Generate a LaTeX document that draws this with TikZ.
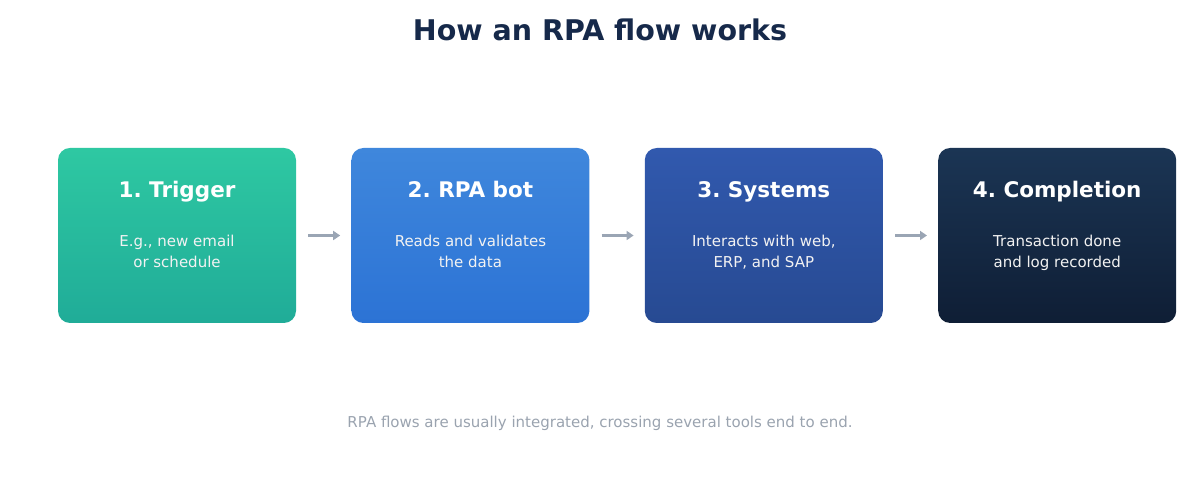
\documentclass[tikz,border=0pt]{standalone}
\usepackage{fontspec}
\setmainfont{DejaVu Sans}
\frenchspacing
\usetikzlibrary{arrows.meta,positioning,calc}
\definecolor{rpaTitle}{HTML}{16294A}
\definecolor{rpaGray}{HTML}{9AA3AF}
\definecolor{rpaArrow}{HTML}{9AA5B4}
\definecolor{rpaOneTop}{HTML}{2EC8A2}
\definecolor{rpaOneBot}{HTML}{20AC98}
\definecolor{rpaTwoTop}{HTML}{3F87DC}
\definecolor{rpaTwoBot}{HTML}{2C73D5}
\definecolor{rpaThreeTop}{HTML}{3159AE}
\definecolor{rpaThreeBot}{HTML}{274A92}
\definecolor{rpaFourTop}{HTML}{1B3554}
\definecolor{rpaFourBot}{HTML}{0F1E35}

\begin{document}
\begin{tikzpicture}[x=1pt,y=1pt,
    rpabox/.style={rounded corners=12pt,minimum width=238pt,minimum height=175pt,
        inner sep=0pt},
    rpahead/.style={font=\fontsize{21.5}{25}\selectfont\bfseries,text=white,anchor=base},
    rpabody/.style={font=\fontsize{15}{21}\selectfont,text=white!90!gray,align=center,
        text depth=0pt},
    rpaarrow/.style={-{Triangle[length=7pt,width=9pt]},draw=rpaArrow,line width=2.2pt,
        shorten <=12pt,shorten >=11pt}
]
\useasboundingbox (0,0) rectangle (1200,481);
\node[font=\fontsize{28.5}{32}\selectfont\bfseries,text=rpaTitle] (title) at (600,451)
    {How an RPA flow works};
\node[rpabox,top color=rpaOneTop,bottom color=rpaOneBot] (trigger) at (177,245.5) {};
\node[rpabox,top color=rpaTwoTop,bottom color=rpaTwoBot,right=55pt of trigger] (bot) {};
\node[rpabox,top color=rpaThreeTop,bottom color=rpaThreeBot,right=55pt of bot] (systems) {};
\node[rpabox,top color=rpaFourTop,bottom color=rpaFourBot,right=55pt of systems] (done) {};
% headings and descriptions
\node[rpahead] at ($(trigger.center)+(0,37.8)$) {1. Trigger};
\node[rpabody] at ($(trigger.center)+(0,-16)$) {E.g., new email\\or schedule};
\node[rpahead] at ($(bot.center)+(0,37.8)$) {2. RPA bot};
\node[rpabody] at ($(bot.center)+(0,-16)$) {Reads and validates\\the data};
\node[rpahead] at ($(systems.center)+(0,37.8)$) {3. Systems};
\node[rpabody] at ($(systems.center)+(0,-16)$) {Interacts with web,\\ERP, and SAP};
\node[rpahead] at ($(done.center)+(0,37.8)$) {4. Completion};
\node[rpabody] at ($(done.center)+(0,-16)$) {Transaction done\\and log recorded};
\draw[rpaarrow] (trigger.east)--(bot.west);
\draw[rpaarrow] (bot.east)--(systems.west);
\draw[rpaarrow] (systems.east)--(done.west);
\node[font=\fontsize{15}{18}\selectfont,text=rpaGray] (note) at (600,58)
    {RPA flows are usually integrated, crossing several tools end to end.};
\end{tikzpicture}
\end{document}
